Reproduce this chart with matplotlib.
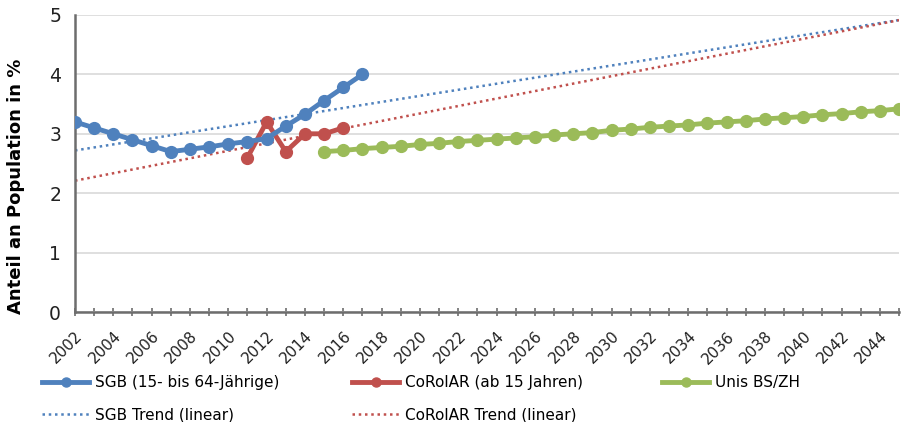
import numpy as np
import matplotlib.pyplot as plt
from matplotlib.lines import Line2D

plt.rcParams['font.family'] = ['DejaVu Sans']

# data
sgb_years = list(range(2002, 2018))
sgb_vals = [3.2, 3.1, 3.0, 2.9, 2.8, 2.7, 2.74, 2.78, 2.83, 2.87, 2.92, 3.13, 3.33, 3.56, 3.78, 4.0]

cor_years = list(range(2011, 2017))
cor_vals = [2.6, 3.2, 2.7, 3.0, 3.0, 3.1]

unis_years = list(range(2015, 2046))
unis_vals = [2.70, 2.72, 2.75, 2.77, 2.79, 2.82, 2.84, 2.87, 2.89, 2.91, 2.93, 2.95, 2.98, 3.00, 3.02,
             3.06, 3.08, 3.11, 3.13, 3.15, 3.18, 3.20, 3.22, 3.25, 3.27, 3.29, 3.32, 3.34, 3.37, 3.39, 3.42]

all_years = np.arange(2002, 2046)

blue = '#4F81BD'
red = '#C0504D'
green = '#9BBB59'

fig = plt.figure(figsize=(9.03, 4.22), dpi=100)
ax = fig.add_axes([75/903, 1-312/422, 824/903, 297/422])

# linear trends (like Excel trendlines), extended over whole axis
p = np.polyfit(sgb_years, sgb_vals, 1)
ax.plot(all_years, np.polyval(p, all_years), ls=(0, (1, 1.5)), color=blue, lw=1.8, zorder=2)
p = np.polyfit(cor_years, cor_vals, 1)
ax.plot(all_years, np.polyval(p, all_years), ls=(0, (1, 1.5)), color=red, lw=1.8, zorder=2)

ax.plot(sgb_years, sgb_vals, '-o', color=blue, lw=3.5, ms=8.5, zorder=4)
ax.plot(cor_years, cor_vals, '-o', color=red, lw=3.5, ms=8.5, zorder=3)
ax.plot(unis_years, unis_vals, '-o', color=green, lw=3.5, ms=8.5, zorder=3)

ax.set_xlim(2002, 2045)
ax.set_ylim(0, 5)
ax.set_yticks(range(0, 6))
ax.set_xticks(all_years, minor=True)
ax.set_xticks(range(2002, 2045, 2))
ax.set_xticklabels([str(y) for y in range(2002, 2045, 2)], rotation=45, ha='right',
                   rotation_mode='anchor', fontsize=11, color='#222222')
ax.tick_params(axis='x', which='both', direction='inout', length=6, width=1.2, color='#6d6d6d', pad=9)
ax.tick_params(axis='y', length=0, labelsize=13.5, pad=10, labelcolor='#222222')
ax.grid(axis='y', color='#d9d9d9', lw=1.2)
ax.set_axisbelow(True)
for s in ['top', 'right']:
    ax.spines[s].set_visible(False)
ax.spines['left'].set_color('#6d6d6d')
ax.spines['left'].set_linewidth(1.8)
ax.spines['bottom'].set_color('#6d6d6d')
ax.spines['bottom'].set_linewidth(1.8)

ax.set_ylabel('Anteil an Population in %', fontsize=13, fontweight='bold')
ax.yaxis.set_label_coords(-0.061, 0.424)

# legend: three separate columns
def leg(handles, labels, x):
    fig.legend(handles, labels, loc='upper left', bbox_to_anchor=(x/903, 1-375/422),
               frameon=False, fontsize=11, handlelength=3.1, handletextpad=0.4,
               labelspacing=1.15, borderaxespad=0, borderpad=0)

h_sgb = Line2D([], [], color=blue, lw=3.5, marker='o', ms=6.5)
h_sgbt = Line2D([], [], color=blue, lw=1.8, ls=(0, (1, 1.5)))
h_cor = Line2D([], [], color=red, lw=3.5, marker='o', ms=6.5)
h_cort = Line2D([], [], color=red, lw=1.8, ls=(0, (1, 1.5)))
h_uni = Line2D([], [], color=green, lw=3.5, marker='o', ms=6.5)
for h in (h_sgb, h_cor, h_uni):
    h.set_markevery([1])
leg([h_sgb, h_sgbt], ['SGB (15- bis 64-Jährige)', 'SGB Trend (linear)'], 42)
leg([h_cor, h_cort], ['CoRolAR (ab 15 Jahren)', 'CoRolAR Trend (linear)'], 352)
leg([h_uni], ['Unis BS/ZH'], 662)

fig.savefig('out.png', dpi=100)
